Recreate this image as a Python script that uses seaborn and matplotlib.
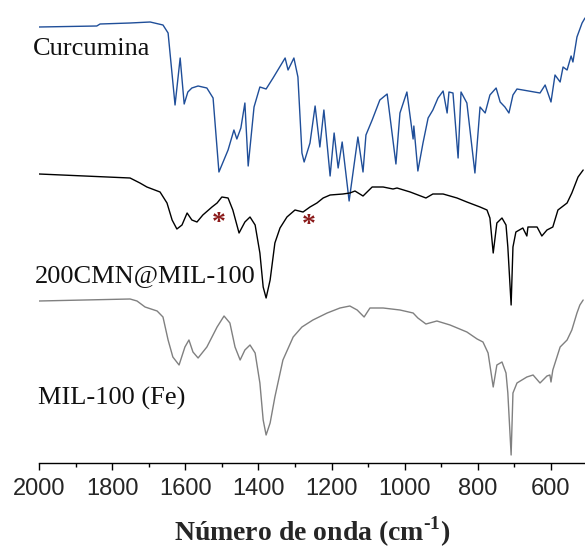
import matplotlib
matplotlib.use("Agg")
import matplotlib.pyplot as plt
import seaborn as sns
import pandas as pd
from matplotlib.ticker import MultipleLocator

# ---- data (wavenumber in cm^-1, intensity in arbitrary offset units) ----
curc_wn = [2000, 1842, 1833, 1751, 1696, 1661, 1647, 1628, 1614, 1603, 1593, 1582, 1565, 1541,
           1524, 1508, 1483, 1467, 1459, 1448, 1437, 1428, 1412, 1396, 1379, 1360, 1327, 1319,
           1303, 1292, 1281, 1275, 1259, 1245, 1232, 1221, 1204, 1193, 1182, 1171, 1152, 1128,
           1114, 1106, 1089, 1068, 1048, 1024, 1013, 994, 977, 975, 964, 950, 936, 923, 909,
           895, 884, 879, 868, 854, 846, 830, 808, 794, 780, 767, 750, 739, 726, 715, 704, 693,
           677, 630, 616, 600, 589, 575, 567, 556, 545, 540, 529, 515, 507]
curc_y = [436, 437, 439, 440, 441, 438, 430, 358, 405, 359, 371, 375, 377, 375,
          365, 291, 313, 333, 324, 335, 360, 297, 356, 376, 374, 385, 405, 393,
          405, 386, 310, 301, 320, 357, 316, 353, 287, 330, 295, 321, 262, 326,
          291, 328, 343, 363, 369, 299, 350, 371, 324, 337, 292, 320, 345, 353, 365,
          372, 350, 371, 370, 305, 371, 360, 290, 356, 350, 368, 375, 361, 356, 350, 368, 374,
          373, 370, 378, 361, 388, 381, 396, 393, 407, 401, 426, 440, 445]

cmn_wn = [2000, 1751, 1724, 1705, 1669, 1650, 1636, 1623, 1609, 1595, 1582, 1568, 1552, 1527,
          1513, 1500, 1483, 1470, 1453, 1437, 1423, 1409, 1396, 1387, 1379, 1368, 1355, 1341,
          1322, 1300, 1278, 1259, 1240, 1223, 1204, 1169, 1150, 1136, 1114, 1089, 1059, 1032,
          1021, 985, 942, 923, 895, 857, 830, 794, 775, 767, 758, 748, 734, 723, 718, 709, 704,
          696, 677, 666, 663, 638, 625, 611, 595, 581, 556, 543, 526, 512]
cmn_y = [289, 285, 280, 276, 271, 260, 243, 234, 238, 250, 243, 241, 248, 256,
         260, 266, 265, 253, 230, 241, 246, 238, 210, 176, 165, 183, 220, 235,
         246, 253, 251, 256, 260, 265, 268, 269, 270, 272, 267, 276, 276, 274,
         275, 271, 265, 269, 269, 265, 261, 256, 253, 245, 210, 240, 245, 238, 216, 158, 216,
         231, 235, 227, 236, 236, 227, 233, 236, 253, 260, 270, 286, 293]

mil_wn = [2000, 1751, 1732, 1710, 1677, 1661, 1647, 1634, 1617, 1601, 1590, 1579, 1565, 1541,
          1513, 1494, 1478, 1464, 1450, 1437, 1423, 1409, 1396, 1387, 1379, 1368, 1355, 1333,
          1305, 1281, 1251, 1212, 1177, 1150, 1130, 1111, 1095, 1059, 1013, 977, 964, 942, 912,
          876, 830, 802, 786, 772, 758, 748, 734, 723, 718, 709, 704, 693, 666, 649, 630, 611,
          603, 600, 595, 575, 556, 543, 529, 521, 512]
mil_y = [162, 164, 162, 156, 152, 146, 123, 106, 98, 116, 123, 111, 105, 116,
         136, 147, 140, 116, 103, 113, 118, 110, 80, 43, 28, 40, 66, 103,
         126, 136, 143, 150, 155, 157, 153, 146, 155, 155, 153, 150, 145, 139, 142,
         138, 131, 124, 121, 110, 76, 98, 101, 90, 70, 8, 70, 80, 86, 88, 80, 87,
         88, 81, 93, 116, 123, 133, 150, 158, 163]

labels = ["Curcumina", "200CMN@MIL-100", "MIL-100 (Fe)"]
label_wn = [2016, 2011, 2003]
label_y = [408, 181, 58]
star_wn = [1508, 1262]
star_y = [239, 238]
x_ticks = [2000, 1800, 1600, 1400, 1200, 1000, 800, 600]
x_label = "Número de onda (cm$^{\\mathbf{\u2010}\\mathbf{1}}$)"

colors = ["#1F4E99", "#000000", "#808080"]

# ---- style ----
sns.set_theme(style="white")
plt.rcParams["font.family"] = ["Liberation Sans", "DejaVu Sans"]
plt.rcParams["mathtext.fontset"] = "custom"
plt.rcParams["mathtext.rm"] = "Liberation Serif"
plt.rcParams["mathtext.bf"] = "Liberation Serif:bold"

fig = plt.figure(figsize=(5.85, 5.5), dpi=100)
ax = fig.add_axes([39 / 585, 87 / 550, 546 / 585, 463 / 550])

series = [(curc_wn, curc_y), (cmn_wn, cmn_y), (mil_wn, mil_y)]
for (wn, yy), c in zip(series, colors):
    df = pd.DataFrame({"wn": wn, "val": yy})
    sns.lineplot(data=df, x="wn", y="val", ax=ax, color=c, lw=1.0,
                 sort=False, estimator=None)

ax.set_xlim(2000, 507)
ax.set_ylim(0, 463)

for lab, lx, ly in zip(labels, label_wn, label_y):
    ax.text(lx, ly, lab, family=["Liberation Serif"], fontsize=19,
            color="#111111", va="baseline", ha="left", clip_on=False)

for sx, sy in zip(star_wn, star_y):
    ax.text(sx, sy, "*", family=["Liberation Serif"], fontsize=20, fontweight="bold",
            color="#8B1A1A", ha="center", va="center")

for s in ["top", "right", "left"]:
    ax.spines[s].set_visible(False)
ax.spines["bottom"].set_color("black")
ax.spines["bottom"].set_linewidth(1.0)

ax.set_xticks(x_ticks)
ax.set_xticklabels([str(t) for t in x_ticks])
ax.xaxis.set_minor_locator(MultipleLocator(100))
ax.tick_params(axis="x", which="major", direction="out", length=5, width=1,
               color="black", labelsize=17, pad=6, bottom=True)
ax.tick_params(axis="x", which="minor", direction="out", length=3, width=1,
               color="black", bottom=True)
ax.set_yticks([])
ax.set_ylabel("")
ax.set_xlabel(x_label, family=["Liberation Serif"], fontsize=20,
              fontweight="bold", labelpad=10)

fig.savefig("out.png", dpi=100)
